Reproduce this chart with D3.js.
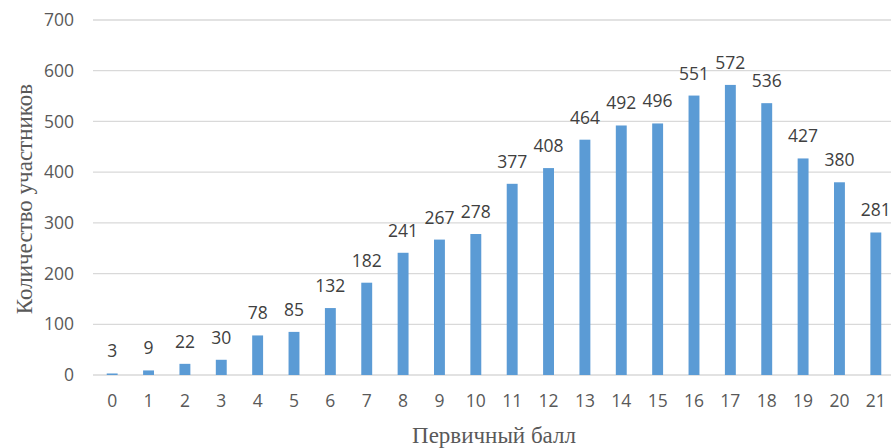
<!DOCTYPE html>
<html>
<head>
<meta charset="utf-8">
<script src="https://cdn.jsdelivr.net/npm/d3@7"></script>
<style>
  html, body { margin: 0; padding: 0; background: #fff; }
  svg { display: block; }
</style>
</head>
<body>
<svg id="chart" width="891" height="448"></svg>
<script>
// Distribution of participants by primary score
const scores = ["0","1","2","3","4","5","6","7","8","9","10","11","12","13","14","15","16","17","18","19","20","21"];
const counts = [3, 9, 22, 30, 78, 85, 132, 182, 241, 267, 278, 377, 408, 464, 492, 496, 551, 572, 536, 427, 380, 281];
const yTicks = [0, 100, 200, 300, 400, 500, 600, 700];
const xTitle = "Первичный балл";
const yTitle = "Количество участников";

const svg = d3.select("#chart");
const W = 891, H = 448;
const plotLeft = 94, plotRight = 894, plotTop = 20, plotBottom = 375;

const x = d3.scaleBand().domain(scores).range([plotLeft, plotRight]).paddingInner(0.7).paddingOuter(0.35);
const y = d3.scaleLinear().domain([0, 700]).range([plotBottom, plotTop]);

const sans = "'Open Sans', 'Noto Sans', sans-serif";
const serif = "'Liberation Serif', 'DejaVu Serif', serif";
const numSize = 17.5;

// horizontal gridlines
svg.append("g")
  .selectAll("line")
  .data(yTicks)
  .join("line")
  .attr("x1", 93).attr("x2", W)
  .attr("y1", d => y(d)).attr("y2", d => y(d))
  .attr("stroke", "#d9d9d9")
  .attr("stroke-width", 1.3);

// y axis labels
const yAxis = svg.append("g")
  .attr("transform", `translate(74,0)`)
  .call(d3.axisLeft(y).tickValues(yTicks).tickSize(0).tickPadding(0));
yAxis.select(".domain").remove();
yAxis.selectAll("text")
  .attr("font-family", sans).attr("font-size", numSize).attr("fill", "#595959");

// x axis labels
const xAxis = svg.append("g")
  .attr("transform", `translate(0,${plotBottom})`)
  .call(d3.axisBottom(x).tickSize(0).tickPadding(20));
xAxis.select(".domain").remove();
xAxis.selectAll("text")
  .attr("font-family", sans).attr("font-size", numSize).attr("fill", "#595959");

const data = scores.map((s, i) => ({ s, v: counts[i] }));

// bars
svg.append("g")
  .selectAll("rect")
  .data(data)
  .join("rect")
  .attr("x", d => x(d.s))
  .attr("width", x.bandwidth())
  .attr("y", d => y(d.v))
  .attr("height", d => y(0) - y(d.v))
  .attr("fill", "#5b9bd5");

// value labels
svg.append("g")
  .selectAll("text")
  .data(data)
  .join("text")
  .attr("x", d => x(d.s) + x.bandwidth() / 2)
  .attr("y", d => y(d.v) - 16)
  .attr("text-anchor", "middle")
  .attr("font-family", sans).attr("font-size", numSize).attr("fill", "#404040")
  .text(d => d.v);

// axis titles
svg.append("text")
  .attr("x", 494).attr("y", 443)
  .attr("text-anchor", "middle")
  .attr("font-family", serif).attr("font-size", 23).attr("fill", "#595959")
  .text(xTitle);

svg.append("text")
  .attr("transform", "translate(32,199) rotate(-90)")
  .attr("text-anchor", "middle")
  .attr("font-family", serif).attr("font-size", 23).attr("fill", "#595959")
  .text(yTitle);
</script>
</body>
</html>
